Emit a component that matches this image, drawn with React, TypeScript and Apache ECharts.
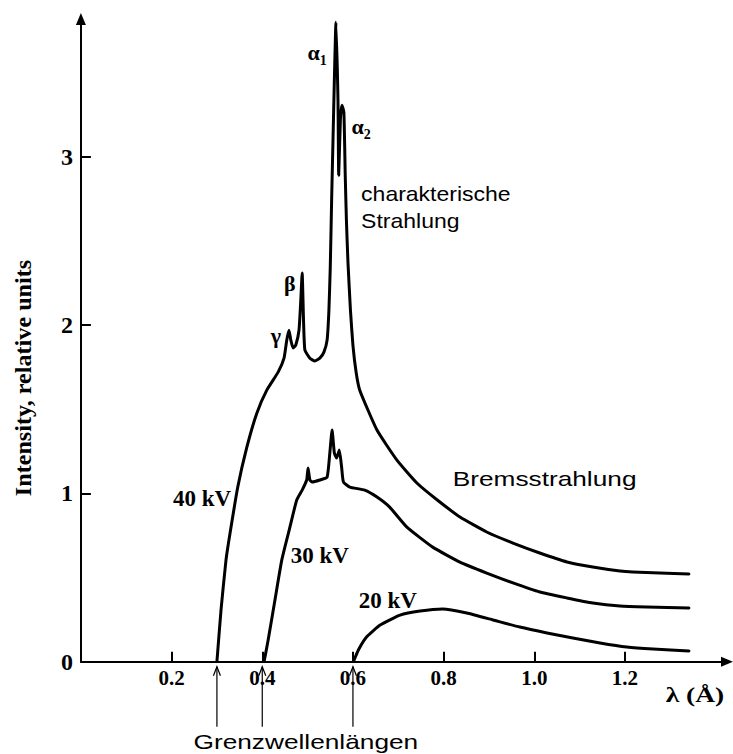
import React, { useEffect, useRef } from "react";
import * as echarts from "echarts";

// wavelength (Å) and intensity (relative units)
const kv40Wavelength = [0.300, 0.309, 0.320, 0.329, 0.346, 0.366, 0.388, 0.410, 0.435, 0.448, 0.454, 0.459, 0.463, 0.468, 0.474, 0.481, 0.485, 0.488, 0.491, 0.494, 0.505, 0.516, 0.527, 0.536, 0.543, 0.547, 0.550, 0.553, 0.556, 0.559, 0.5625, 0.567, 0.5686, 0.5724, 0.5757, 0.580, 0.583, 0.5856, 0.589, 0.5945, 0.600, 0.607, 0.615, 0.653, 0.697, 0.741, 0.786, 0.836, 0.895, 0.953, 1.012, 1.072, 1.129, 1.189, 1.217, 1.277, 1.341];
const kv40Intensity = [0.0, 0.307, 0.604, 0.765, 1.038, 1.275, 1.477, 1.614, 1.721, 1.804, 1.911, 1.970, 1.911, 1.864, 1.882, 1.970, 2.149, 2.310, 2.030, 1.852, 1.804, 1.787, 1.804, 1.840, 1.911, 2.089, 2.345, 2.743, 3.099, 3.456, 3.801, 3.338, 2.892, 3.231, 3.308, 3.266, 2.892, 2.624, 2.375, 2.089, 1.880, 1.720, 1.614, 1.377, 1.198, 1.062, 0.961, 0.860, 0.771, 0.705, 0.646, 0.593, 0.563, 0.539, 0.533, 0.527, 0.521];

const kv30Wavelength = [0.404, 0.413, 0.428, 0.443, 0.461, 0.476, 0.488, 0.498, 0.501, 0.505, 0.510, 0.527, 0.543, 0.549, 0.554, 0.559, 0.564, 0.570, 0.575, 0.579, 0.593, 0.626, 0.653, 0.681, 0.719, 0.776, 0.836, 0.895, 0.953, 1.012, 1.072, 1.129, 1.189, 1.248, 1.341];
const kv30Intensity = [0.0, 0.129, 0.367, 0.604, 0.800, 0.961, 1.020, 1.080, 1.151, 1.080, 1.068, 1.080, 1.097, 1.240, 1.377, 1.240, 1.210, 1.258, 1.157, 1.068, 1.038, 1.020, 0.979, 0.919, 0.800, 0.681, 0.592, 0.527, 0.468, 0.414, 0.379, 0.349, 0.331, 0.325, 0.319];

const kv20Wavelength = [0.601, 0.612, 0.630, 0.660, 0.704, 0.748, 0.798, 0.851, 0.909, 0.968, 1.028, 1.085, 1.145, 1.204, 1.262, 1.341];
const kv20Intensity = [0.0, 0.070, 0.147, 0.218, 0.277, 0.301, 0.313, 0.289, 0.248, 0.206, 0.171, 0.141, 0.111, 0.087, 0.075, 0.064];

const xTickValues = [0.2, 0.4, 0.6, 0.8, 1.0, 1.2];
const yTickValues = [1, 2, 3];
const yLabelValues = [0, 1, 2, 3];
const cutoffWavelengths = [0.3, 0.4, 0.6];

const zip = (xs: number[], ys: number[]) => xs.map((x, i) => [x, ys[i]]);

const SERIF = "'Liberation Serif', 'Times New Roman', serif";
const SANS = "'Liberation Sans', Arial, sans-serif";

export default function App() {
  const ref = useRef<HTMLDivElement>(null);

  useEffect(() => {
    if (!ref.current) return;
    const chart = echarts.init(ref.current, null, { renderer: "svg" });
    const lineSeries = (name: string, data: number[][]) => ({
      name,
      type: "line",
      data,
      showSymbol: false,
      symbol: "none",
      smooth: 0.15,
      lineStyle: { color: "#000", width: 3, join: "round", cap: "round" },
      silent: true,
      z: 3,
    });
    chart.setOption({
      animation: false,
      backgroundColor: "#fff",
      grid: { left: 80.9, right: 6, top: 19, bottom: 92.3, containLabel: false },
      xAxis: {
        type: "value",
        min: 0,
        max: 1.425,
        splitLine: { show: false },
        axisLine: {
          show: true,
          symbol: ["none", "triangle"],
          symbolSize: [10, 12],
          lineStyle: { color: "#000", width: 2 },
        },
        axisTick: {
          show: true,
          inside: true,
          length: 10,
          customValues: xTickValues,
          lineStyle: { color: "#000", width: 2 },
        },
        axisLabel: {
          show: true,
          customValues: xTickValues,
          margin: 6,
          color: "#000",
          fontFamily: SERIF,
          fontWeight: "bold",
          fontSize: 21,
          formatter: (v: number) => v.toFixed(1),
        },
      },
      yAxis: {
        type: "value",
        min: 0,
        max: 3.82,
        splitLine: { show: false },
        axisLine: {
          show: true,
          symbol: ["none", "triangle"],
          symbolSize: [10, 12],
          lineStyle: { color: "#000", width: 2 },
        },
        axisTick: {
          show: true,
          inside: true,
          length: 10,
          customValues: yTickValues,
          lineStyle: { color: "#000", width: 2 },
        },
        axisLabel: {
          show: true,
          customValues: yLabelValues,
          margin: 8,
          color: "#000",
          fontFamily: SERIF,
          fontWeight: "bold",
          fontSize: 24,
        },
      },
      series: [
        lineSeries("40 kV", zip(kv40Wavelength, kv40Intensity)),
        lineSeries("30 kV", zip(kv30Wavelength, kv30Intensity)),
        lineSeries("20 kV", zip(kv20Wavelength, kv20Intensity)),
      ],
    });

    const p = (x: number, y: number) => chart.convertToPixel({ gridIndex: 0 }, [x, y]) as number[];
    const y0 = p(0, 0)[1];

    const serifLabel = (x: number, y: number, text: string, size = 22, align = "center") => {
      const [px, py] = p(x, y);
      return {
        type: "text",
        x: px,
        y: py,
        style: {
          text,
          fill: "#000",
          font: `bold ${size}px ${SERIF}`,
          align,
          verticalAlign: "middle",
        },
        silent: true,
      };
    };

    const greek = (x: number, y: number, letter: string, sub: string) => {
      const [px, py] = p(x, y);
      return {
        type: "text",
        x: px,
        y: py,
        style: {
          text: sub ? `{a|${letter}}{s|${sub}}` : `{a|${letter}}`,
          rich: {
            a: { font: `bold 22px ${SERIF}`, fill: "#000", verticalAlign: "bottom" },
            s: { font: `bold 14px ${SERIF}`, fill: "#000", verticalAlign: "bottom", padding: [0, 0, -4, 0] },
          },
          align: "center",
          verticalAlign: "middle",
        },
        silent: true,
      };
    };

    const sansText = (x: number, y: number, text: string, size: number, scaleX: number) => {
      const [px, py] = p(x, y);
      return {
        type: "text",
        x: px,
        y: py,
        scaleX,
        style: {
          text,
          fill: "#000",
          font: `${size}px ${SANS}`,
          align: "left",
          verticalAlign: "middle",
        },
        silent: true,
      };
    };

    const arrows: any[] = [];
    cutoffWavelengths.forEach((w) => {
      const px = p(w, 0)[0];
      const tip = y0 + 5;
      arrows.push({
        type: "line",
        shape: { x1: px, y1: tip, x2: px, y2: tip + 60 },
        style: { stroke: "#000", lineWidth: 1.2 },
        silent: true,
      });
      arrows.push({
        type: "polyline",
        shape: { points: [[px - 3.5, tip + 9], [px, tip], [px + 3.5, tip + 9]] },
        style: { stroke: "#000", lineWidth: 1.2, fill: null },
        silent: true,
      });
    });

    chart.setOption({
      graphic: [
        greek(0.521, 3.62, "α", "1"),
        greek(0.618, 3.18, "α", "2"),
        greek(0.461, 2.25, "β", ""),
        greek(0.430, 1.94, "γ", ""),
        serifLabel(0.267, 0.972, "40 kV", 23),
        serifLabel(0.527, 0.634, "30 kV", 23),
        serifLabel(0.677, 0.366, "20 kV", 23),
        sansText(0.618, 2.78, "charakterische", 20, 1.15),
        sansText(0.618, 2.62, "Strahlung", 20, 1.15),
        sansText(0.820, 1.09, "Bremsstrahlung", 21, 1.25),
        {
          type: "text",
          x: 193.5,
          y: y0 + 80,
          scaleX: 1.25,
          style: {
            text: "Grenzwellenlängen",
            fill: "#000",
            font: `21px ${SANS}`,
            align: "left",
            verticalAlign: "middle",
          },
          silent: true,
        },
        {
          type: "text",
          x: 695,
          y: y0 + 33,
          scaleX: 1.25,
          style: {
            text: "λ (Å)",
            fill: "#000",
            font: `bold 22px ${SERIF}`,
            align: "center",
            verticalAlign: "middle",
          },
          silent: true,
        },
        {
          type: "text",
          x: 23,
          y: 378,
          rotation: Math.PI / 2,
          scaleX: 1.05,
          style: {
            text: "Intensity, relative units",
            fill: "#000",
            font: `bold 23px ${SERIF}`,
            align: "center",
            verticalAlign: "middle",
          },
          silent: true,
        },
        ...arrows,
      ],
    });

    return () => chart.dispose();
  }, []);

  return (
    <div
      ref={ref}
      style={{ position: "fixed", left: 0, top: 0, width: 733, height: 754, background: "#fff" }}
    />
  );
}
